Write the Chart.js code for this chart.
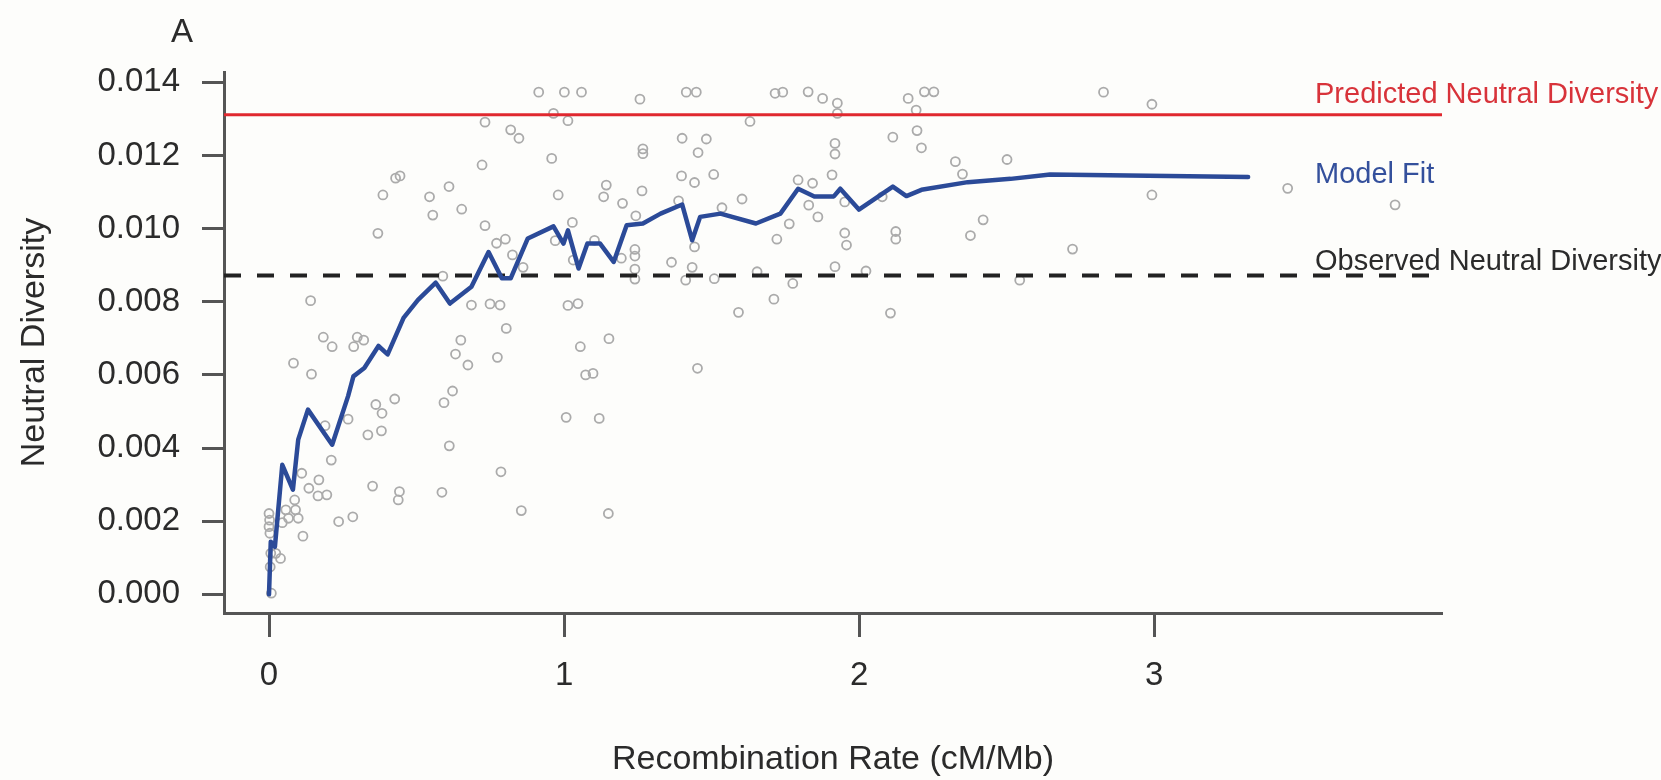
<!DOCTYPE html>
<html>
<head>
<meta charset="utf-8">
<script src="https://cdn.jsdelivr.net/npm/chart.js@4.4.1/dist/chart.umd.min.js"></script>
<style>
  html, body { margin: 0; padding: 0; background: #fdfdfb; }
  #wrap { width: 1661px; height: 780px; position: relative; }
  canvas { display: block; }
</style>
</head>
<body>
<div id="wrap"><canvas id="c" width="1661" height="780"></canvas></div>
<script>
// ---- Data ----
const recombRate = [
  0.914,1.001,1.059,1.257,1.414,1.448,0.732,0.964,1.013,1.630,
  0.819,0.847,1.400,1.482,1.267,1.267,1.454,0.958,0.722,0.429,
  0.444,0.386,0.610,0.544,0.555,0.653,0.369,0.732,0.980,1.143,
  1.134,1.198,1.264,1.398,1.442,1.507,1.603,1.388,1.243,1.028,
  0.970,1.103,0.801,0.771,0.825,0.861,1.031,1.194,1.240,1.240,
  1.240,1.240,1.364,1.434,1.412,1.442,0.589,0.141,0.686,0.749,
  0.783,1.013,1.047,0.804,1.591,0.650,0.184,0.214,0.299,0.321,
  0.287,1.152,1.055,0.632,0.774,0.674,0.083,0.144,1.452,1.073,
  1.098,0.426,0.362,0.383,0.190,0.268,0.335,0.381,0.211,0.622,
  0.593,0.611,1.007,1.119,0.786,0.111,0.169,0.135,0.166,0.196,
  0.351,0.442,0.438,0.586,0.855,1.150,0.236,0.284,0.087,0.090,
  0.057,0.066,0.099,0.045,0.115,0.039,0.023,0.000,0.002,0.000,
  0.003,0.006,0.004,0.008,1.715,1.741,1.827,1.876,1.926,1.926,
  2.166,2.221,2.253,2.193,2.828,2.992,1.918,1.918,2.114,2.196,
  2.211,2.326,2.350,2.501,1.908,1.793,1.842,1.535,1.829,1.860,
  1.951,2.078,2.992,1.763,1.721,1.951,1.957,2.124,2.124,2.420,
  2.377,2.723,1.918,2.023,1.654,1.775,2.544,1.509,1.711,2.106,
  3.452,3.816
];
const neutralDiversity = [
  0.01373,0.01373,0.01373,0.01354,0.01373,0.01373,0.01291,0.01315,0.01295,0.01293,
  0.01270,0.01247,0.01247,0.01245,0.01218,0.01205,0.01208,0.01192,0.01174,0.01138,
  0.01144,0.01092,0.01115,0.01087,0.01037,0.01053,0.00987,0.01008,0.01092,0.01119,
  0.01087,0.01069,0.01103,0.01144,0.01126,0.01148,0.01081,0.01076,0.01035,0.01017,
  0.00967,0.00968,0.00971,0.00960,0.00928,0.00894,0.00914,0.00919,0.00943,0.00925,
  0.00889,0.00862,0.00908,0.00894,0.00859,0.00950,0.00870,0.00803,0.00791,0.00794,
  0.00791,0.00790,0.00795,0.00727,0.00771,0.00695,0.00703,0.00677,0.00703,0.00695,
  0.00677,0.00699,0.00677,0.00657,0.00648,0.00627,0.00632,0.00602,0.00618,0.00600,
  0.00604,0.00534,0.00519,0.00495,0.00461,0.00479,0.00436,0.00447,0.00367,0.00556,
  0.00524,0.00406,0.00484,0.00481,0.00335,0.00331,0.00313,0.00290,0.00269,0.00272,
  0.00296,0.00281,0.00258,0.00279,0.00229,0.00221,0.00199,0.00212,0.00258,0.00231,
  0.00231,0.00208,0.00208,0.00196,0.00159,0.00098,0.00112,0.00221,0.00203,0.00185,
  0.00167,0.00112,0.00075,0.00003,0.01370,0.01373,0.01374,0.01356,0.01343,0.01315,
  0.01356,0.01374,0.01374,0.01324,0.01373,0.01340,0.01233,0.01204,0.01250,0.01268,
  0.01221,0.01183,0.01149,0.01189,0.01147,0.01133,0.01124,0.01057,0.01064,0.01032,
  0.01073,0.01087,0.01092,0.01013,0.00971,0.00988,0.00955,0.00992,0.00971,0.01024,
  0.00981,0.00944,0.00896,0.00884,0.00882,0.00850,0.00859,0.00863,0.00807,0.00769,
  0.01110,0.01065
];
const fitRate = [
  0.000,0.006,0.020,0.045,0.081,0.099,0.132,0.214,0.268,0.286,
  0.323,0.371,0.402,0.456,0.505,0.565,0.613,0.686,0.744,0.789,
  0.819,0.877,0.964,0.998,1.013,1.049,1.079,1.122,1.168,1.212,
  1.267,1.327,1.400,1.434,1.461,1.530,1.650,1.733,1.793,1.848,
  1.914,1.936,1.999,2.114,2.160,2.211,2.368,2.513,2.647,2.913,
  3.318
];
const fitDiversity = [
  0.00000,0.00144,0.00130,0.00354,0.00286,0.00423,0.00505,0.00409,0.00542,0.00596,
  0.00619,0.00679,0.00656,0.00756,0.00805,0.00852,0.00795,0.00841,0.00936,0.00864,
  0.00864,0.00973,0.01006,0.00959,0.00995,0.00891,0.00959,0.00959,0.00909,0.01009,
  0.01014,0.01041,0.01066,0.00968,0.01032,0.01041,0.01014,0.01041,0.01109,0.01088,
  0.01088,0.01109,0.01052,0.01115,0.01089,0.01106,0.01127,0.01136,0.01148,0.01145,
  0.01141
];
const predictedNeutral = 0.01311;
const observedNeutral = 0.00872;
const xTickValues = [0, 1, 2, 3];
const yTickValues = [0, 0.002, 0.004, 0.006, 0.008, 0.010, 0.012, 0.014];

// ---- Scale ranges ----
const xMin = -0.1525, xMax = 3.975;
const yMin = -0.000511, yMax = 0.014282;

const FONT = '"Liberation Sans", Arial, Helvetica, sans-serif';
const AXIS_COLOR = '#555555';
const TEXT_COLOR = '#2b2b2b';

const scatterPts = recombRate.map((x, i) => ({ x: x, y: neutralDiversity[i] }));
const fitPts = fitRate.map((x, i) => ({ x: x, y: fitDiversity[i] }));
const predPts = [{ x: xMin, y: predictedNeutral }, { x: xMax, y: predictedNeutral }];
const obsPts = [{ x: xMin, y: observedNeutral }, { x: xMax, y: observedNeutral }];

const labelPlugin = {
  id: 'labels',
  afterDraw(chart) {
    const ctx = chart.ctx;
    ctx.save();
    ctx.textBaseline = 'alphabetic';
    ctx.textAlign = 'left';
    ctx.fillStyle = TEXT_COLOR;
    ctx.font = '33px ' + FONT;
    ctx.fillText('A', 171, 42);
    ctx.font = '29px ' + FONT;
    ctx.fillStyle = '#d8333a';
    ctx.fillText('Predicted Neutral Diversity', 1315, 103);
    ctx.fillStyle = '#34509c';
    ctx.fillText('Model Fit', 1315, 183);
    ctx.fillStyle = TEXT_COLOR;
    ctx.fillText('Observed Neutral Diversity', 1315, 270);
    ctx.restore();
  }
};

new Chart(document.getElementById('c'), {
  type: 'scatter',
  data: {
    datasets: [
      {
        label: 'Predicted Neutral Diversity',
        type: 'line',
        data: predPts,
        borderColor: '#e0282f',
        borderWidth: 3,
        pointRadius: 0,
        fill: false,
        order: 0
      },
      {
        label: 'Model Fit',
        type: 'line',
        data: fitPts,
        borderColor: '#2b4a98',
        borderWidth: 4.5,
        borderJoinStyle: 'round',
        borderCapStyle: 'round',
        pointRadius: 0,
        tension: 0,
        fill: false,
        order: 1
      },
      {
        label: 'Observed Neutral Diversity',
        type: 'line',
        data: obsPts,
        borderColor: '#222222',
        borderWidth: 4,
        borderDash: [17, 16],
        pointRadius: 0,
        fill: false,
        order: 2
      },
      {
        label: 'Windows',
        data: scatterPts,
        pointStyle: 'circle',
        pointRadius: 4.5,
        pointBorderWidth: 1.8,
        borderColor: '#ababab',
        backgroundColor: 'rgba(0,0,0,0)',
        order: 3
      }
    ]
  },
  options: {
    responsive: false,
    animation: false,
    devicePixelRatio: 1,
    layout: { padding: { left: 0, right: 219, top: 72, bottom: 0 } },
    plugins: {
      legend: { display: false },
      tooltip: { enabled: false },
      title: { display: false }
    },
    scales: {
      x: {
        type: 'linear',
        min: xMin,
        max: xMax,
        afterBuildTicks: s => { s.ticks = xTickValues.map(v => ({ value: v })); },
        afterFit: s => { s.height = 167; },
        border: { display: true, color: AXIS_COLOR, width: 3 },
        grid: { display: true, drawOnChartArea: false, drawTicks: true, tickLength: 24, tickWidth: 3, tickColor: AXIS_COLOR, color: AXIS_COLOR },
        ticks: {
          autoSkip: false,
          maxRotation: 0,
          padding: 19,
          color: TEXT_COLOR,
          font: { family: FONT, size: 33 },
          callback: v => String(v)
        },
        title: {
          display: true,
          text: 'Recombination Rate (cM/Mb)',
          color: TEXT_COLOR,
          font: { family: FONT, size: 34 },
          padding: { top: 0, bottom: 0 }
        }
      },
      y: {
        type: 'linear',
        min: yMin,
        max: yMax,
        afterBuildTicks: s => { s.ticks = yTickValues.map(v => ({ value: v })); },
        afterFit: s => { s.width = 224; },
        border: { display: true, color: AXIS_COLOR, width: 3 },
        grid: { display: true, drawOnChartArea: false, drawTicks: true, tickLength: 22, tickWidth: 3, tickColor: AXIS_COLOR, color: AXIS_COLOR },
        ticks: {
          autoSkip: false,
          padding: 22,
          color: TEXT_COLOR,
          font: { family: FONT, size: 33 },
          callback: v => Number(v).toFixed(3)
        },
        title: {
          display: true,
          text: 'Neutral Diversity',
          color: TEXT_COLOR,
          font: { family: FONT, size: 34 },
          padding: { top: 14, bottom: 0 }
        }
      }
    }
  },
  plugins: [labelPlugin]
});
</script>
</body>
</html>
